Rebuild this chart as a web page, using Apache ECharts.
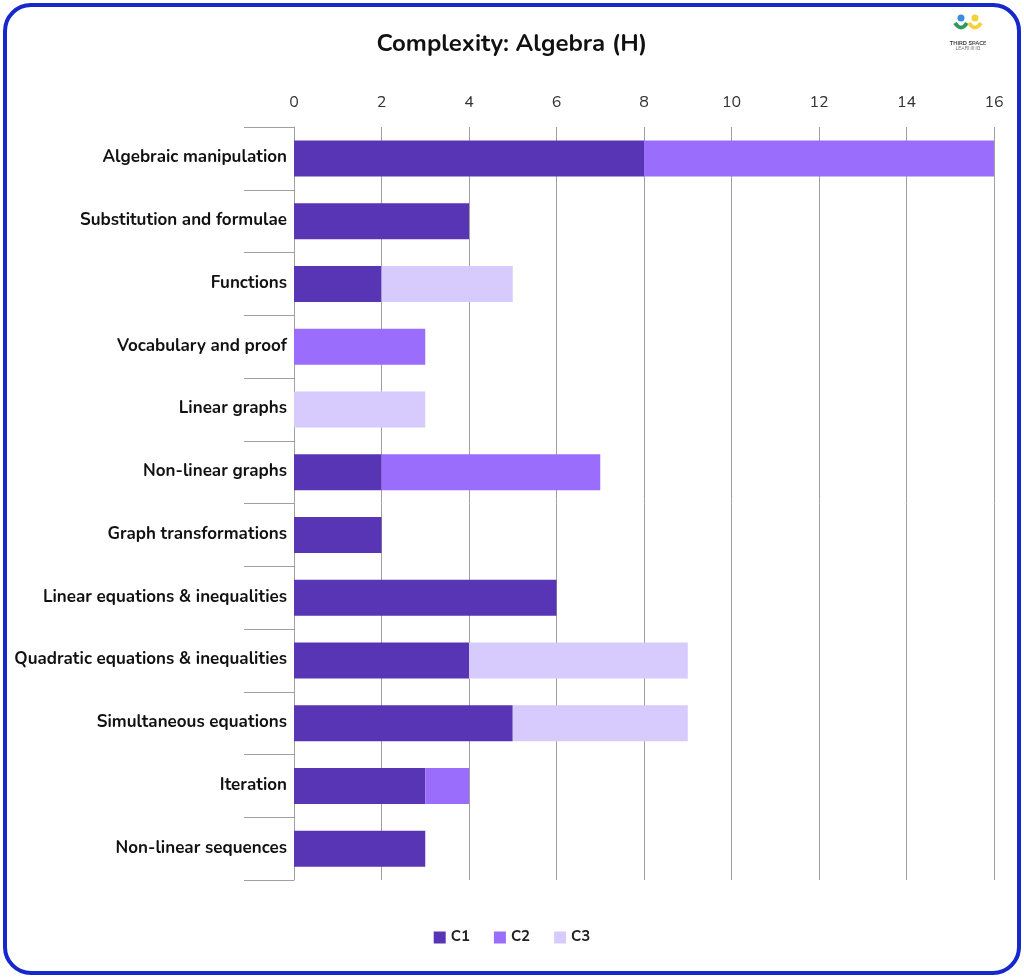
<!DOCTYPE html>
<html><head><meta charset="utf-8">
<script src="https://cdn.jsdelivr.net/npm/echarts@6/dist/echarts.min.js"></script>
<style>html,body{margin:0;padding:0;background:#fff}
#frame{position:absolute;left:3px;top:3px;width:1010px;height:964px;border:4px solid #1428cc;border-radius:28px;box-sizing:content-box}
#c{position:absolute;left:0;top:0;width:1024px;height:978px}
#logo{position:absolute;left:940px;top:14px;width:56px;text-align:center;font-family:'Nunito','Noto Sans',sans-serif}
</style></head><body>
<div id="frame"></div>
<div id="c"></div>
<div id="logo">
<svg width="30" height="20" viewBox="0 0 30 20"><circle cx="8" cy="4" r="3.5" fill="#3b8be0"/><circle cx="22" cy="4" r="3.5" fill="#f2d13d"/><path d="M2 9 Q8 18 14 9" stroke="#2e9a5a" stroke-width="4" fill="none"/><path d="M16 9 Q22 18 28 9" stroke="#f2d13d" stroke-width="4" fill="none"/></svg>
<div style="font-size:5.5px;font-weight:bold;color:#333;line-height:6px">THIRD SPACE</div>
<div style="font-size:5px;color:#666;line-height:6px">LEARNING</div>
</div>
<script>
const categories=["Algebraic manipulation","Substitution and formulae","Functions","Vocabulary and proof","Linear graphs","Non-linear graphs","Graph transformations","Linear equations & inequalities","Quadratic equations & inequalities","Simultaneous equations","Iteration","Non-linear sequences"];
const c1=[8,4,2,0,0,2,2,6,4,5,3,3];
const c2=[8,0,0,3,0,5,0,0,0,0,1,0];
const c3=[0,0,3,0,3,0,0,0,5,4,0,0];
const font="'Nunito','Lato','Noto Sans',sans-serif";
const chart=echarts.init(document.getElementById('c'));
const mk=(n,d,col)=>({name:n,type:'bar',stack:'s',data:d,barWidth:36,itemStyle:{color:col}});
chart.setOption({
 animation:false,
 textStyle:{fontFamily:font},
 title:{text:'Complexity: Algebra (H)',left:'center',top:28,textStyle:{fontSize:24,fontWeight:'bold',color:'#111',fontFamily:font}},
 legend:{bottom:28,left:'center',itemWidth:12,itemHeight:12,itemGap:24,icon:'rect',textStyle:{fontSize:15,fontWeight:'bold',color:'#222'}},
 grid:{left:294,right:30,top:127,bottom:98},
 xAxis:{type:'value',position:'top',min:0,max:16,interval:2,
  axisLabel:{fontSize:16,color:'#333',margin:16},
  splitLine:{lineStyle:{color:'#a0a0a0',width:1}},axisLine:{show:false},axisTick:{show:false}},
 yAxis:{type:'category',data:categories,inverse:true,
  axisLine:{show:true,lineStyle:{color:'#a0a0a0'}},
  axisTick:{show:true,length:50,lineStyle:{color:'#a0a0a0'}},
  axisLabel:{fontSize:17,fontWeight:'bold',color:'#111',margin:7}},
 series:[mk('C1',c1,'#5835b4'),mk('C2',c2,'#9a6dfc'),mk('C3',c3,'#d7cafc')]
});
</script></body></html>
